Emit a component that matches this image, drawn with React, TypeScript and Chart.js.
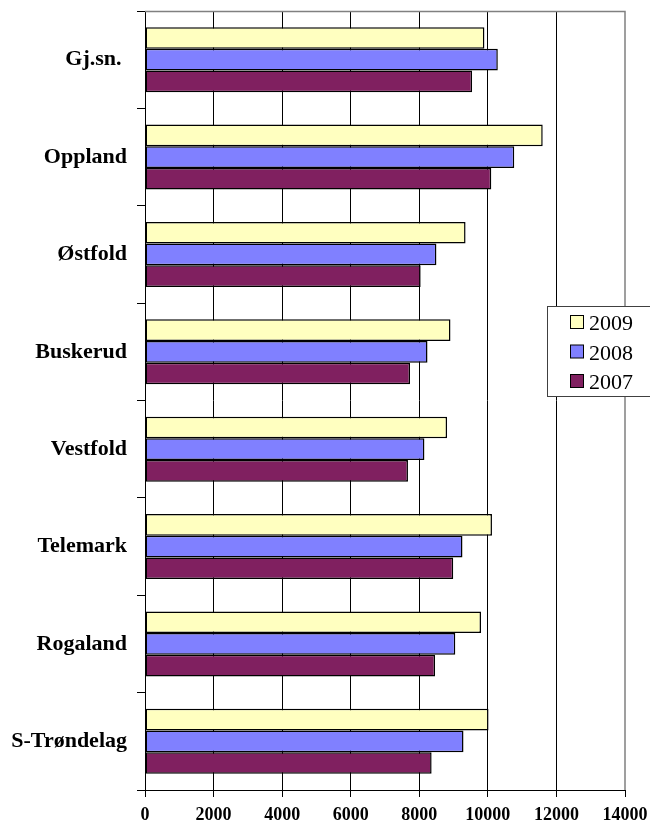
import React, { useEffect, useRef } from "react";
import { Chart, registerables } from "chart.js";

Chart.register(...registerables);

const categories = ["Gj.sn. ", "Oppland", "Østfold", "Buskerud", "Vestfold", "Telemark", "Rogaland", "S-Trøndelag"];
const seriesLabels = ["2009", "2008", "2007"];
const values2009 = [9900, 11600, 9350, 8910, 8810, 10120, 9800, 10020];
const values2008 = [10290, 10770, 8500, 8240, 8150, 9260, 9050, 9290];
const values2007 = [9540, 10100, 8040, 7730, 7670, 8990, 8460, 8360];
const seriesColors = ["#FFFFC0", "#8080FF", "#802060"];
const xMin = 0;
const xMax = 14000;
const xStep = 2000;

const SERIF = "'Liberation Serif', 'Times New Roman', serif";

const zeroPad = (s: any) => {
  s.paddingTop = 0;
  s.paddingBottom = 0;
  s.paddingLeft = 0;
  s.paddingRight = 0;
};

const frameAndLegend = {
  id: "frameAndLegend",
  afterDraw(chart: any) {
    const { ctx, chartArea } = chart;
    ctx.save();
    ctx.strokeStyle = "#808080";
    ctx.lineWidth = 1.5;
    ctx.beginPath();
    ctx.moveTo(chartArea.left, chartArea.top + 0.5);
    ctx.lineTo(chartArea.right, chartArea.top + 0.5);
    ctx.lineTo(chartArea.right, chartArea.bottom);
    ctx.stroke();

    const bx = 547.5, by = 306.5, bw = 106, bh = 90;
    ctx.fillStyle = "#ffffff";
    ctx.fillRect(bx, by, bw, bh);
    ctx.strokeStyle = "#404040";
    ctx.lineWidth = 1;
    ctx.strokeRect(bx, by, bw, bh);
    const ds = chart.data.datasets;
    ctx.font = `22px ${SERIF}`;
    ctx.textAlign = "left";
    ctx.textBaseline = "alphabetic";
    ds.forEach((d: any, i: number) => {
      const sy = 315.5 + i * 29.5;
      ctx.fillStyle = d.backgroundColor;
      ctx.fillRect(570.5, sy, 13, 13);
      ctx.strokeStyle = "#000";
      ctx.strokeRect(570.5, sy, 13, 13);
      ctx.fillStyle = "#000";
      ctx.fillText(d.label, 589, sy + 14.5);
    });
    ctx.restore();
  },
};

export default function App() {
  const ref = useRef<HTMLCanvasElement | null>(null);
  useEffect(() => {
    if (!ref.current) return;
    const series = [values2009, values2008, values2007];
    const chart = new Chart(ref.current, {
      type: "bar",
      data: {
        labels: categories,
        datasets: series.map((vals, i) => ({
          label: seriesLabels[i],
          data: vals,
          backgroundColor: seriesColors[i],
          borderColor: "#000",
          borderWidth: 1.5,
          borderSkipped: false,
          categoryPercentage: 0.667,
          barPercentage: 1.0,
        })),
      },
      options: {
        indexAxis: "y",
        responsive: false,
        animation: false,
        devicePixelRatio: 1,
        layout: { padding: { top: 11, right: 25, left: 0, bottom: 0 } },
        plugins: { legend: { display: false }, tooltip: { enabled: false } },
        scales: {
          y: {
            type: "category",
            offset: true,
            grid: {
              display: true,
              offset: true,
              drawOnChartArea: false,
              drawTicks: true,
              tickLength: 8,
              color: "#000",
            },
            border: { display: true, color: "#000", width: 1 },
            ticks: {
              color: "#000",
              padding: 10,
              font: { family: SERIF, size: 22, weight: "bold" },
            },
            afterFit: (s: any) => {
              s.width = 145;
              zeroPad(s);
            },
          },
          x: {
            min: xMin,
            max: xMax,
            grid: {
              color: (c: any) => (c.tick && c.tick.value === xMax ? "rgba(0,0,0,0)" : "#000"),
              tickColor: "#000",
              tickLength: 7,
              drawTicks: true,
            },
            border: { display: true, color: "#000", width: 1 },
            ticks: {
              stepSize: xStep,
              autoSkip: false,
              maxRotation: 0,
              color: "#000",
              padding: 8,
              font: { family: SERIF, size: 18, weight: "bold" },
              callback: (v: any) => String(v),
            },
            afterFit: (s: any) => {
              s.height = 35;
              zeroPad(s);
            },
          },
        },
      },
      plugins: [frameAndLegend],
    } as any);
    return () => chart.destroy();
  }, []);
  return (
    <div style={{ position: "absolute", left: 0, top: 0, width: 650, height: 825, background: "#fff" }}>
      <canvas ref={ref} width={650} height={825} style={{ display: "block" }} />
    </div>
  );
}
